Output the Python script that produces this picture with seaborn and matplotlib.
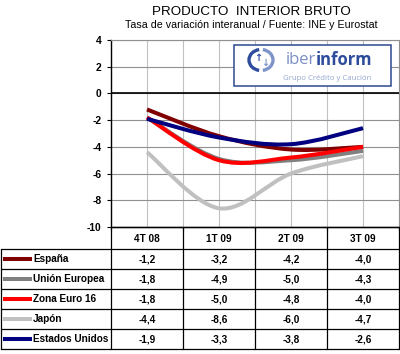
import matplotlib
matplotlib.use('Agg')
import matplotlib.pyplot as plt
import seaborn as sns
from matplotlib.path import Path
from matplotlib.patches import PathPatch, Rectangle, Arc

sns.set_style('white')
plt.rcParams['font.family'] = ['Liberation Sans', 'DejaVu Sans']

# Datos: tasa de variacion interanual del PIB
periodos = ['4T 08', '1T 09', '2T 09', '3T 09']
paises = ['España', 'Unión Europea', 'Zona Euro 16', 'Japón', 'Estados Unidos']
espana = [-1.2, -3.2, -4.2, -4.0]
union_europea = [-1.8, -4.9, -5.0, -4.3]
zona_euro = [-1.8, -5.0, -4.8, -4.0]
japon = [-4.4, -8.6, -6.0, -4.7]
estados_unidos = [-1.9, -3.3, -3.8, -2.6]
series = [espana, union_europea, zona_euro, japon, estados_unidos]
colores = sns.color_palette(['#800000', '#808080', '#ff0000', '#c0c0c0', '#000080'])


def smooth_path(xs, ys):
    # Excel-like smoothed line (Catmull-Rom as cubic Bezier segments)
    pts = list(zip(xs, ys))
    verts = [pts[0]]
    codes = [Path.MOVETO]
    for i in range(len(pts) - 1):
        p0 = pts[i - 1] if i > 0 else pts[i]
        p1 = pts[i]
        p2 = pts[i + 1]
        p3 = pts[i + 2] if i + 2 < len(pts) else p2
        c1 = (p1[0] + (p2[0] - p0[0]) / 6, p1[1] + (p2[1] - p0[1]) / 6)
        c2 = (p2[0] - (p3[0] - p1[0]) / 6, p2[1] - (p3[1] - p1[1]) / 6)
        verts += [c1, c2, p2]
        codes += [Path.CURVE4] * 3
    return Path(verts, codes)


W, H = 400, 354
fig = plt.figure(figsize=(W / 100, H / 100), dpi=100)

# --- chart area (pixel box 111..399 x 40..227) ---
ax = fig.add_axes([111 / W, 1 - 227 / H, 288 / W, 187 / H])
ax.set_xlim(-0.5, 3.5)
ax.set_ylim(-10, 4)
ax.set_yticks(range(-10, 5, 2))
ax.set_yticklabels([str(v) for v in range(-10, 5, 2)], fontweight='bold', fontsize=7.4)
ax.set_xticks([-0.5, 0.5, 1.5, 2.5, 3.5])
ax.set_xticks([0, 1, 2, 3], minor=True)
ax.set_xticklabels([])
ax.tick_params(axis='y', direction='out', length=3, width=0.8, pad=4, left=True, colors='black')
ax.tick_params(axis='x', which='major', direction='out', length=3, width=0.8, bottom=True)
ax.tick_params(axis='x', which='minor', length=0)
ax.grid(axis='x', which='both', color='#c0c0c0', lw=0.8)
ax.grid(axis='y', color='#909090', lw=0.8)
ax.axhline(0, color='black', lw=1.2, zorder=2)
for s in ['left', 'bottom']:
    ax.spines[s].set_color('black')
    ax.spines[s].set_linewidth(1)
for s in ['top', 'right']:
    ax.spines[s].set_color('#909090')
    ax.spines[s].set_linewidth(0.8)

xs = list(range(len(periodos)))
for vals, col in zip(series, colores):
    ax.add_patch(PathPatch(smooth_path(xs, vals), facecolor='none', edgecolor=col,
                           lw=2.9, capstyle='butt', joinstyle='round', zorder=3))

# --- overlay in pixel coordinates: title, logo, data table ---
ov = fig.add_axes([0, 0, 1, 1], zorder=5)
ov.set_xlim(0, W)
ov.set_ylim(H, 0)
ov.axis('off')
ov.patch.set_alpha(0)

ov.text(251, 12, 'PRODUCTO  INTERIOR BRUTO', ha='center', va='center', fontsize=9.6, color='black')
ov.text(251, 25.5, 'Tasa de variación interanual / Fuente: INE y Eurostat', ha='center', va='center',
        fontsize=7.7, color='black')

# logo
ov.add_patch(Rectangle((234, 45), 157, 41, facecolor='white', edgecolor='#2e4a8f', lw=1.1))
ov.add_patch(Arc((261, 60), 24, 21, theta1=100, theta2=260, edgecolor='#2d4c9c', lw=2.4))
ov.add_patch(Arc((261, 60), 24, 21, theta1=280, theta2=440, edgecolor='#7f95c9', lw=2.4))
ov.text(258, 58, '↑', ha='center', va='center', fontsize=7, color='#2d4c9c',
        family=['DejaVu Sans'], fontweight='bold')
ov.text(265, 63, '↓', ha='center', va='center', fontsize=7, color='#7f95c9',
        family=['DejaVu Sans'], fontweight='bold')
ov.text(316, 60, 'iber', ha='right', va='center', fontsize=12, color='#7b8fc6',
        family=['Open Sans', 'DejaVu Sans'])
ov.text(316, 60, 'inform', ha='left', va='center', fontsize=12, color='#2d4c9c', fontweight='bold',
        family=['Open Sans', 'DejaVu Sans'])
ov.text(283, 78, 'Grupo Crédito y Caución', ha='left', va='center', fontsize=5.6, color='#94a6d0',
        family=['Open Sans', 'DejaVu Sans'])

# table grid
col_x = [111, 183, 255, 327, 399]
row_y = [227, 249, 269, 289, 309, 329, 349]
lc = 'black'
ov.plot([111, 399], [row_y[0], row_y[0]], color=lc, lw=0.9)
for y in row_y[1:]:
    ov.plot([1, 399], [y, y], color=lc, lw=0.9)
for x in col_x:
    ov.plot([x, x], [row_y[0], row_y[-1]], color=lc, lw=0.9)
ov.plot([1, 1], [row_y[1], row_y[-1]], color=lc, lw=0.9)

tf = dict(fontweight='bold', fontsize=7.2, color='black')
for j, p in enumerate(periodos):
    ov.text((col_x[j] + col_x[j + 1]) / 2, (row_y[0] + row_y[1]) / 2 + 0.5, p,
            ha='center', va='center', **tf)

for i, (name, vals, col) in enumerate(zip(paises, series, colores)):
    yc = (row_y[i + 1] + row_y[i + 2]) / 2
    ov.plot([3, 32], [yc, yc], color=col, lw=2.9, solid_capstyle='butt')
    ov.text(33, yc, name, ha='left', va='center', **tf)
    for j, v in enumerate(vals):
        ov.text((col_x[j] + col_x[j + 1]) / 2, yc, f'{v:.1f}'.replace('.', ','),
                ha='center', va='center', **tf)

fig.savefig('out.png', dpi=100, facecolor='white')
